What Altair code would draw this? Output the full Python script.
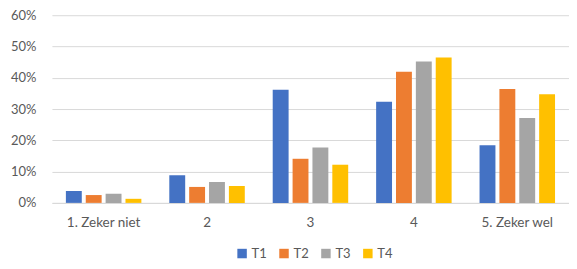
import altair as alt
import pandas as pd

categories = ["1. Zeker niet", "2", "3", "4", "5. Zeker wel"]
series = ["T1", "T2", "T3", "T4"]
T1 = [0.038, 0.088, 0.362, 0.323, 0.184]
T2 = [0.025, 0.051, 0.141, 0.419, 0.364]
T3 = [0.029, 0.067, 0.177, 0.452, 0.271]
T4 = [0.013, 0.054, 0.122, 0.465, 0.347]
colors = ["#4472C4", "#ED7D31", "#A5A5A5", "#FFC000"]

rows = []
for s, vals in zip(series, [T1, T2, T3, T4]):
    for c, v in zip(categories, vals):
        rows.append({"cat": c, "serie": s, "val": v})
df = pd.DataFrame(rows)

font = "Lato"
chart = alt.Chart(df).mark_bar().encode(
    x=alt.X("cat:N", sort=categories, title=None,
            scale=alt.Scale(paddingInner=0.27, paddingOuter=0.135),
            axis=alt.Axis(labelAngle=0, ticks=False, domainColor="#D9D9D9",
                          labelFontSize=13.5, labelColor="#595959", labelFont=font,
                          labelPadding=13, grid=False)),
    xOffset=alt.XOffset("serie:N", sort=series,
                        scale=alt.Scale(paddingInner=0.2)),
    y=alt.Y("val:Q", title=None,
            scale=alt.Scale(domain=[0, 0.6], nice=False),
            axis=alt.Axis(format=".0%", values=[0, 0.1, 0.2, 0.3, 0.4, 0.5, 0.6],
                          ticks=False, domain=False, gridColor="#D9D9D9",
                          labelFontSize=13, labelColor="#595959", labelFont=font,
                          labelPadding=16)),
    color=alt.Color("serie:N", sort=series,
                    scale=alt.Scale(domain=series, range=colors),
                    legend=alt.Legend(title=None, orient="none", direction="horizontal",
                                      legendX=184, legendY=232,
                                      symbolType="square", symbolSize=90,
                                      symbolStrokeWidth=0,
                                      labelFontSize=13, labelColor="#595959",
                                      labelFont=font, columnPadding=10,
                                      symbolOffset=0, labelOffset=3)),
).properties(
    width=518, height=188,
    autosize=alt.AutoSizeParams(type="none"),
    padding={"left": 44, "top": 7, "right": 0, "bottom": 58},
).configure_view(stroke=None)

chart.save("out.html", embed_options={"renderer": "svg", "actions": False})
